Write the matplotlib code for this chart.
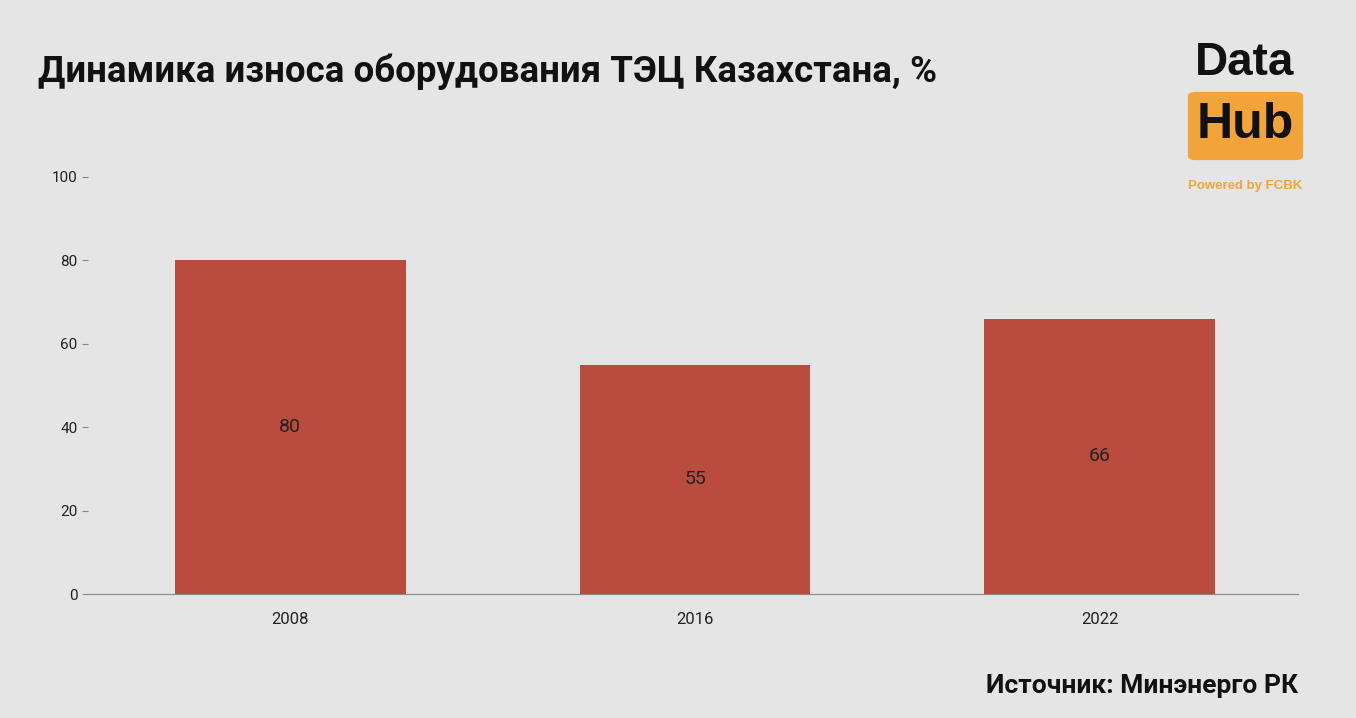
import matplotlib.pyplot as plt
from matplotlib.patches import FancyBboxPatch

plt.rcParams['font.family'] = ['Roboto', 'DejaVu Sans']

years = ['2008', '2016', '2022']
wear = [80, 55, 66]

bg = '#e5e5e5'
bar_color = '#b94c3e'

fig = plt.figure(figsize=(13.56, 7.18), dpi=100, facecolor=bg)
ax = fig.add_axes([0.0649, 0.1727, 0.8923, 0.5808])
ax.set_facecolor(bg)

x = range(len(years))
bars = ax.bar(x, wear, width=0.57, color=bar_color)
for b, v in zip(bars, wear):
    ax.text(b.get_x() + b.get_width() / 2, v / 2, str(v), ha='center', va='center',
            fontsize=14, color='#222222')

ax.set_xticks(list(x))
ax.set_xticklabels(years, fontsize=12, color='#222222')
ax.set_xlim(-0.5, 2.49)
ax.set_ylim(0, 100)
ax.set_yticks([0, 20, 40, 60, 80, 100])
ax.tick_params(axis='y', labelsize=11, colors='#222222', length=4, color='#888888')
ax.tick_params(axis='x', length=0, pad=13)
for s in ['top', 'right', 'left']:
    ax.spines[s].set_visible(False)
ax.spines['bottom'].set_color('#888888')

fig.text(0.028, 0.9, 'Динамика износа оборудования ТЭЦ Казахстана, %', fontsize=26.4,
         fontweight='bold', va='center', ha='left', color='#111111')

# logo
logo_font = ['Liberation Sans', 'DejaVu Sans']
fig.text(0.918, 0.912, 'Data', fontsize=33, fontweight='bold', ha='center', va='center',
         color='#111111', family=logo_font)
box = FancyBboxPatch((0.876, 0.777), 0.085, 0.095, boxstyle='round,pad=0,rounding_size=0.006',
                     transform=fig.transFigure, facecolor='#f2a33a', edgecolor='none')
fig.patches.append(box)
fig.text(0.918, 0.826, 'Hub', fontsize=36, fontweight='bold', ha='center', va='center',
         color='#111111', family=logo_font)
fig.text(0.918, 0.741, 'Powered by FCBK', fontsize=9.5, fontweight='bold', ha='center', va='center',
         color='#f2a33a', family=logo_font)

fig.text(0.957, 0.045, 'Источник: Минэнерго РК', fontsize=19, fontweight='bold', ha='right',
         va='center', color='#111111')

fig.savefig('out.png', dpi=100, facecolor=bg)
